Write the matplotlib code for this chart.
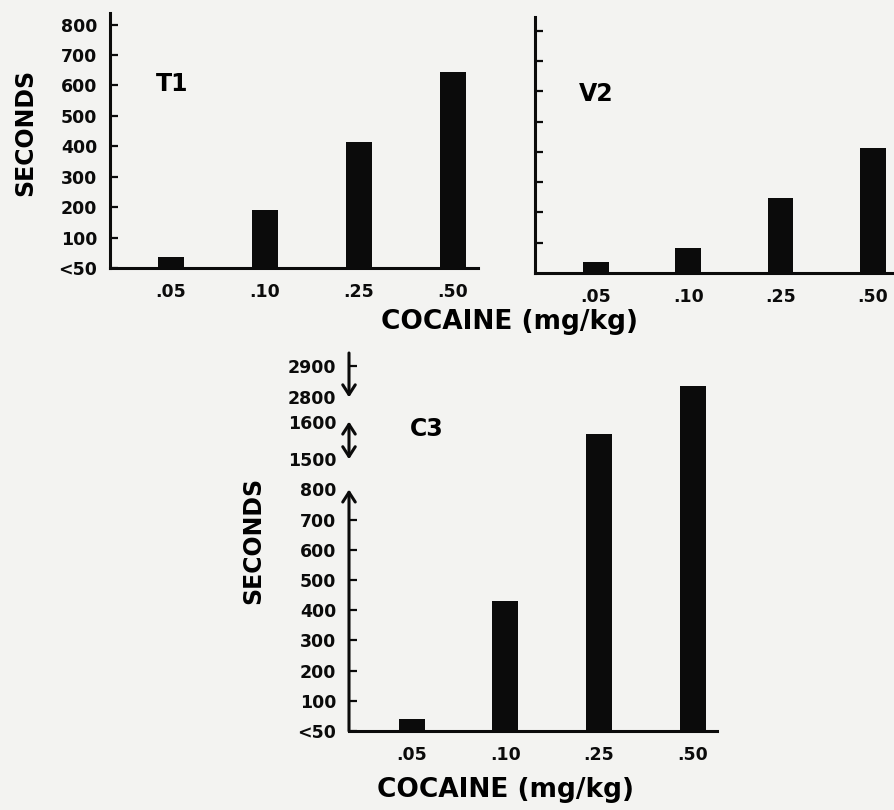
import numpy as np
import matplotlib
matplotlib.use("Agg")
import matplotlib.pyplot as plt

# Data (seconds, "<50" drawn at zero).
doses = [".05", ".10", ".25", ".50"]
t1_seconds = [35, 190, 413, 645]
v2_seconds = [35, 83, 247, 412]
c3_seconds = [40, 430, 1566, 2836]

low_ticks = [0, 100, 200, 300, 400, 500, 600, 700, 800]
low_labels = ["<50", "100", "200", "300", "400", "500", "600", "700", "800"]
c3_ticks = low_ticks + [1500, 1600, 2800, 2900]
c3_labels = low_labels + ["1500", "1600", "2800", "2900"]
c3_breaks = [800, 1500, 1600, 2800]

# Broken axis of C3: seconds -> drawing position.
brk_seconds = [0, 800, 1500, 1600, 2800, 3000]
brk_pos = [0, 8, 9, 10.25, 11.05, 13.15]

plt.rcParams["font.family"] = "DejaVu Sans"
plt.rcParams["font.weight"] = "bold"

bg = "#f3f3f1"
ink = "#0b0b0b"
fig = plt.figure(figsize=(8.95, 8.10), dpi=100, facecolor=bg)


def setup(ax, ylim_top):
    ax.set_facecolor(bg)
    for s in ["top", "right"]:
        ax.spines[s].set_visible(False)
    for s in ["left", "bottom"]:
        ax.spines[s].set_linewidth(2.2)
        ax.spines[s].set_color(ink)
    ax.tick_params(axis="y", direction="in", length=6, width=1.6,
                   labelsize=12.5, pad=9, colors=ink)
    ax.tick_params(axis="x", length=0, labelsize=12.5, pad=11, colors=ink)
    ax.set_ylim(0, ylim_top)
    ax.set_xlim(-0.65, 3.27)
    ax.set_xticks(range(len(doses)))
    ax.set_xticklabels(doses)


# Top left: T1
ax1 = fig.add_axes([110 / 895, (810 - 268) / 810, 368 / 895, 255 / 810])
setup(ax1, 838)
ax1.bar(range(len(doses)), t1_seconds, width=0.28, color=ink)
ax1.set_yticks(low_ticks)
ax1.set_yticklabels(low_labels)
ax1.set_ylabel("SECONDS", fontsize=17, fontweight="bold")
ax1.yaxis.set_label_coords(-0.198, 0.53)
ax1.text(0.17, 0.72, "T1", transform=ax1.transAxes, fontsize=17,
         fontweight="bold", ha="center", va="center")

# Top right: V2
ax2 = fig.add_axes([535 / 895, (810 - 273) / 810, 360 / 895, 256 / 810])
setup(ax2, 845)
ax2.set_xlim(-0.66, 3.24)
ax2.bar(range(len(doses)), v2_seconds, width=0.28, color=ink)
ax2.set_yticks(low_ticks[1:])
ax2.tick_params(axis="y", labelleft=False)
ax2.text(0.17, 0.70, "V2", transform=ax2.transAxes, fontsize=17,
         fontweight="bold", ha="center", va="center")

fig.text(510 / 895, 1 - 322 / 810, "COCAINE (mg/kg)", fontsize=19,
         fontweight="bold", ha="center", va="center")

# Bottom: C3 with broken axis
ax3 = fig.add_axes([349 / 895, (810 - 731) / 810, 368 / 895, 378 / 810])
ax3.set_yscale("function",
               functions=(lambda v: np.interp(v, brk_seconds, brk_pos),
                          lambda p: np.interp(p, brk_pos, brk_seconds)))
setup(ax3, 2940)
ax3.set_xlim(-0.67, 3.26)
ax3.bar(range(len(doses)), c3_seconds, width=0.28, color=ink)
ax3.set_yticks(c3_ticks)
ax3.set_yticklabels(c3_labels)
for val, tick in zip(c3_ticks, ax3.yaxis.get_major_ticks()):
    if val in c3_breaks:
        tick.tick1line.set_visible(False)
ax3.spines["left"].set_visible(False)
ax3.set_ylabel("SECONDS", fontsize=17, fontweight="bold")
ax3.yaxis.set_label_coords(-0.228, 0.504)
ax3.text(0.21, 0.80, "C3", transform=ax3.transAxes, fontsize=17,
         fontweight="bold", ha="center", va="center")

yt = ax3.get_yaxis_transform()
arrow = dict(arrowstyle="->,head_length=0.7,head_width=0.45", lw=2.2,
             color=ink, shrinkA=0, shrinkB=0)
both = dict(arrow, arrowstyle="<->,head_length=0.7,head_width=0.45")
ax3.annotate("", xy=(0, 800), xytext=(0, 0), xycoords=yt, arrowprops=arrow)
ax3.annotate("", xy=(0, 1600), xytext=(0, 1500), xycoords=yt, arrowprops=both)
ax3.annotate("", xy=(0, 2800), xytext=(0, 2940), xycoords=yt, arrowprops=arrow)

fig.text(506 / 895, 1 - 790 / 810, "COCAINE (mg/kg)", fontsize=19,
         fontweight="bold", ha="center", va="center")

fig.savefig("out.png", dpi=100, facecolor=bg)
